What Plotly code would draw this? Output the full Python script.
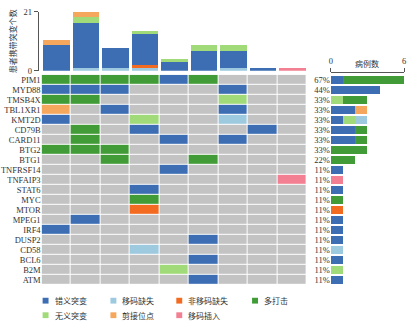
import plotly.graph_objects as go

W, H = 412, 327

# ---------------- data ----------------
genes = ["PIM1", "MYD88", "TMSB4X", "TBL1XR1", "KMT2D", "CD79B", "CARD11", "BTG2", "BTG1",
         "TNFRSF14", "TNFAIP3", "STAT6", "MYC", "MTOR", "MPEG1", "IRF4", "DUSP2", "CD58",
         "BCL6", "B2M", "ATM"]
samples = list(range(9))
n_patients = 9

# mutation type names (legend order)
types = ["错义突变", "移码缺失", "非移码缺失", "多打击", "无义突变", "剪接位点", "移码插入"]
type_colors = {
    "错义突变": "#3d6eb3",
    "移码缺失": "#9ecae0",
    "非移码缺失": "#f26b21",
    "多打击": "#419c37",
    "无义突变": "#a1da78",
    "剪接位点": "#f6a75e",
    "移码插入": "#f28092",
}
NONE_COLOR = "#c3c3c3"

# per-gene mutation per sample ('' = none)
M, FD, ID, MH, N, S, FI = "错义突变", "移码缺失", "非移码缺失", "多打击", "无义突变", "剪接位点", "移码插入"
mut_matrix = [
    [MH, MH, MH, MH, M, MH, "", "", ""],   # PIM1
    [M, M, M, "", "", "", M, "", ""],      # MYD88
    [MH, MH, "", "", "", "", N, "", ""],   # TMSB4X
    [S, "", M, "", "", "", M, "", ""],     # TBL1XR1
    [M, "", "", N, "", "", FD, "", ""],    # KMT2D
    ["", MH, "", M, "", "", "", M, ""],    # CD79B
    ["", MH, "", "", M, "", M, "", ""],    # CARD11
    [MH, MH, MH, "", "", "", "", "", ""],  # BTG2
    ["", "", MH, "", "", MH, "", "", ""],  # BTG1
    ["", "", "", "", M, "", "", "", ""],   # TNFRSF14
    ["", "", "", "", "", "", "", "", FI],  # TNFAIP3
    ["", "", "", M, "", "", "", "", ""],   # STAT6
    ["", "", "", MH, "", "", "", "", ""],  # MYC
    ["", "", "", ID, "", "", "", "", ""],  # MTOR
    ["", M, "", "", "", "", "", "", ""],   # MPEG1
    [M, "", "", "", "", "", "", "", ""],   # IRF4
    ["", "", "", "", "", M, "", "", ""],   # DUSP2
    ["", "", "", FD, "", "", "", "", ""],  # CD58
    ["", "", "", "", "", M, "", "", ""],   # BCL6
    ["", "", "", "", N, "", "", "", ""],   # B2M
    ["", "", "", "", "", M, "", "", ""],   # ATM
]

# top bar: number of mutations carried per patient, by type
top_missense = [9, 16, 7, 11, 3, 7, 6, 1, 0]
top_fs_del = [0, 1, 1, 1, 0, 0, 1, 0, 0]
top_inframe_del = [0, 0, 0, 1, 0, 0, 0, 0, 0]
top_nonsense = [0, 2, 0, 1, 1, 2, 2, 0, 0]
top_splice = [2, 2, 0, 0, 0, 0, 0, 0, 0]
top_fs_ins = [0, 0, 0, 0, 0, 0, 0, 0, 1]
top_series = [("移码缺失", top_fs_del), ("非移码缺失", top_inframe_del), ("错义突变", top_missense),
              ("无义突变", top_nonsense), ("剪接位点", top_splice), ("移码插入", top_fs_ins)]

right_order = ["错义突变", "无义突变", "移码缺失", "剪接位点", "非移码缺失", "多打击", "移码插入"]

FONT = "Liberation Serif, Noto Sans CJK SC, serif"
TXT = "#333333"


def px_x(p):
    return p / W


def px_y(p):
    return 1 - p / H


# ---------------- figure ----------------
fig = go.Figure()

# heatmap
codes = {t: i + 1 for i, t in enumerate(types)}
z = [[codes.get(v, 0) for v in row] for row in mut_matrix]
cols = [NONE_COLOR] + [type_colors[t] for t in types]
n = len(cols)
cs = []
for i, c in enumerate(cols):
    cs.append([i / n, c])
    cs.append([(i + 1) / n, c])
fig.add_trace(go.Heatmap(z=z, x=samples, y=genes, colorscale=cs, zmin=-0.5, zmax=n - 0.5,
                         showscale=False, xgap=1, ygap=1, xaxis="x", yaxis="y", hoverinfo="skip"))

# top stacked bars
for t, vals in top_series:
    fig.add_trace(go.Bar(x=samples, y=vals, marker_color=type_colors[t], width=0.9,
                         marker_line_width=0, xaxis="x2", yaxis="y2", name=t))

# right stacked bars
pct_text = []
for gi, g in enumerate(genes):
    cnt = sum(1 for v in mut_matrix[gi] if v)
    pct_text.append(f"{round(cnt / n_patients * 100)}%")
for t in right_order:
    vals = [sum(1 for v in row if v == t) for row in mut_matrix]
    fig.add_trace(go.Bar(y=genes, x=vals, orientation="h", marker_color=type_colors[t], width=0.8,
                         marker_line_width=0, xaxis="x3", yaxis="y3", name=t))

hm_x = [px_x(40), px_x(308)]
hm_y = [px_y(289), px_y(72)]

fig.update_layout(
    width=W, height=H, margin=dict(l=0, r=0, t=0, b=0),
    paper_bgcolor="white", plot_bgcolor="white", showlegend=False, barmode="stack",
    font=dict(family=FONT, size=9, color=TXT),
    xaxis=dict(domain=hm_x, range=[-0.5, 8.5], showticklabels=False, showgrid=False,
               zeroline=False, anchor="y"),
    yaxis=dict(domain=hm_y, autorange="reversed", type="category", showgrid=False,
               zeroline=False, ticks="", tickfont=dict(size=8.5, color=TXT), anchor="x"),
    xaxis2=dict(domain=hm_x, range=[-0.5, 8.5], showticklabels=False, showgrid=False,
                zeroline=False, anchor="y2"),
    yaxis2=dict(domain=[px_y(67.7), px_y(7)], range=[0, 21], tickvals=[0, 21], ticks="outside",
                ticklen=4, tickcolor="#555", showline=True, linecolor="#555", linewidth=1,
                showgrid=False, zeroline=False, anchor="free", position=px_x(36),
                tickfont=dict(size=8.5, color=TXT),
                title=dict(text="患者携带突变个数", font=dict(size=8, color=TXT), standoff=4)),
    xaxis3=dict(domain=[px_x(332), px_x(406)], range=[0, 6], side="top", tickvals=[0, 6],
                ticks="outside", ticklen=4, tickcolor="#555", showline=True, linecolor="#555",
                showgrid=False, zeroline=False, anchor="free", position=px_y(69),
                tickfont=dict(size=8.5, color=TXT)),
    yaxis3=dict(domain=hm_y, autorange="reversed", type="category", showgrid=False,
                zeroline=False, ticks="", tickmode="array", tickvals=genes, ticktext=pct_text,
                tickfont=dict(size=8.5, color=TXT), anchor="x3"),
)

fig.add_annotation(text="病例数", x=px_x(369), y=px_y(61), xref="paper", yref="paper",
                   showarrow=False, font=dict(size=8, color=TXT), xanchor="center", yanchor="middle")

# manual legend
legend_pos = [
    ("错义突变", 44, 305), ("移码缺失", 112.5, 305), ("非移码缺失", 179, 305), ("多打击", 255.5, 305),
    ("无义突变", 44, 320), ("剪接位点", 112.5, 320), ("移码插入", 179, 320),
]
for t, cx, cy in legend_pos:
    s = 3
    fig.add_shape(type="rect", xref="paper", yref="paper",
                  x0=px_x(cx - s), x1=px_x(cx + s), y0=px_y(cy + s), y1=px_y(cy - s),
                  fillcolor=type_colors[t], line_width=0)
    fig.add_annotation(text=t, x=px_x(cx + 7), y=px_y(cy), xref="paper", yref="paper",
                       showarrow=False, xanchor="left", yanchor="middle",
                       font=dict(size=8, color=TXT, family="Noto Sans CJK SC"))

fig.write_html("out.html")
